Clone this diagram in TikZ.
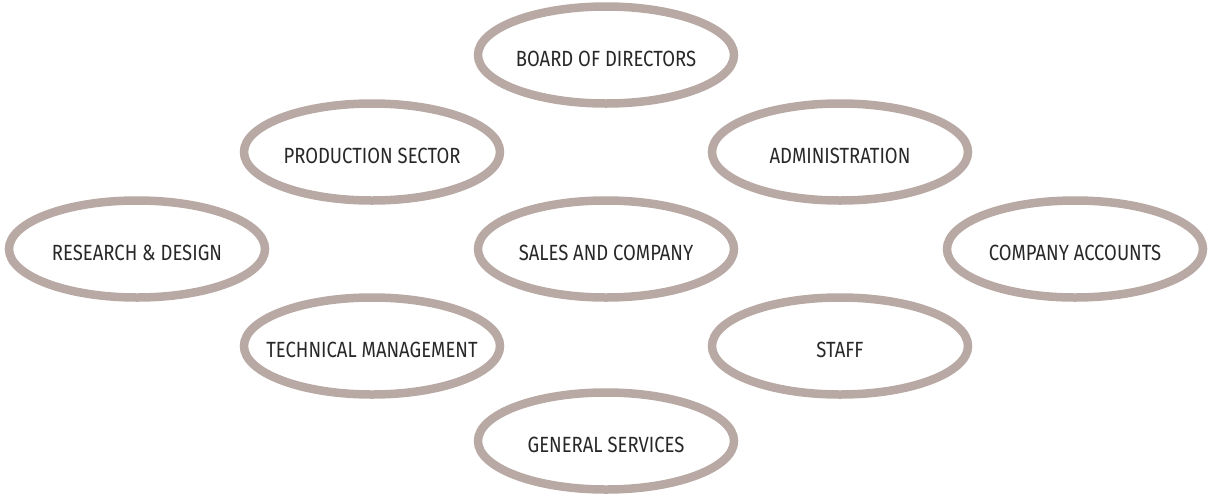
\documentclass[tikz,border=0pt]{standalone}
\usepackage{fontspec}
\usetikzlibrary{shapes.geometric}
\setmainfont{Fira Sans}[FakeStretch=0.84]
\definecolor{ring}{RGB}{185,169,164}
\definecolor{txt}{RGB}{40,40,40}
\newcommand{\lbl}[1]{\makebox[0pt]{\raisebox{-11pt}[0pt][0pt]{#1}}}
\begin{document}
\begin{tikzpicture}[x=1pt,y=-1pt,
  unit/.style={ellipse,draw=ring,line width=8.5pt,minimum width=256pt,minimum height=97pt,inner sep=0pt,text=txt,font=\fontsize{22}{26}\selectfont}]
\useasboundingbox (0,0) rectangle (1210,496);
\node[unit] (board) at (606,55) {\lbl{BOARD OF DIRECTORS}};
\node[unit] (prod) at (372,152) {\lbl{PRODUCTION SECTOR}};
\node[unit] (admin) at (840,152) {\lbl{ADMINISTRATION}};
\node[unit] (rd) at (137,249) {\lbl{RESEARCH \& DESIGN}};
\node[unit] (sales) at (606,249) {\lbl{SALES AND COMPANY}};
\node[unit] (acc) at (1075,249) {\lbl{COMPANY ACCOUNTS}};
\node[unit] (tech) at (372,346) {\lbl{TECHNICAL MANAGEMENT}};
\node[unit] (staff) at (840,346) {\lbl{STAFF}};
\node[unit] (gen) at (606,441) {\lbl{GENERAL SERVICES}};
\end{tikzpicture}
\end{document}
